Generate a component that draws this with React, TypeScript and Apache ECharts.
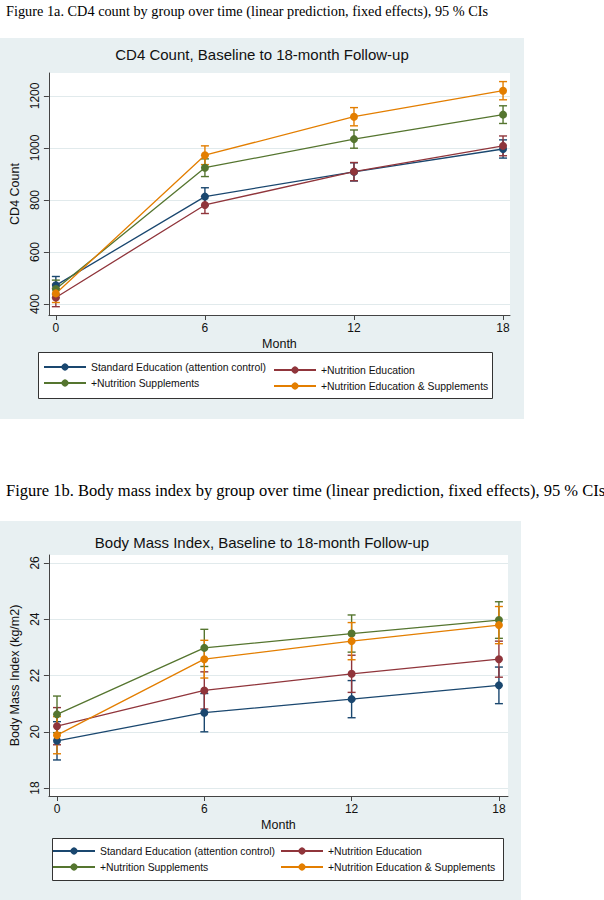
import React, { useEffect, useRef } from "react";
import * as echarts from "echarts";

// ---------- data ----------
const months = [0, 6, 12, 18];
const groupNames = [
  "Standard Education (attention control)",
  "+Nutrition Education",
  "+Nutrition Supplements",
  "+Nutrition Education & Supplements",
];
const groupColors = ["#1a476f", "#90353b", "#55752f", "#e37e00"];

// CD4 count (linear prediction) and 95% CI half-widths
const cd4Standard = [472, 813, 908, 996];
const cd4NutEd = [425, 781, 909, 1008];
const cd4NutSupp = [458, 924, 1034, 1128];
const cd4NutEdSupp = [441, 972, 1120, 1220];
const cd4StandardCi = [34, 34, 35, 35];
const cd4NutEdCi = [35, 33, 35, 38];
const cd4NutSuppCi = [34, 34, 35, 34];
const cd4NutEdSuppCi = [35, 36, 35, 35];
const cd4Ticks = [400, 600, 800, 1000, 1200];

// BMI (linear prediction) and 95% CI half-widths
const bmiStandard = [19.68, 20.68, 21.16, 21.65];
const bmiNutEd = [20.2, 21.47, 22.06, 22.58];
const bmiNutSupp = [20.62, 22.98, 23.49, 23.97];
const bmiNutEdSupp = [19.88, 22.58, 23.22, 23.79];
const bmiStandardCi = [0.68, 0.68, 0.66, 0.65];
const bmiNutEdCi = [0.66, 0.66, 0.66, 0.64];
const bmiNutSuppCi = [0.65, 0.66, 0.66, 0.65];
const bmiNutEdSuppCi = [0.66, 0.67, 0.66, 0.66];
const bmiTicks = [18, 20, 22, 24, 26];

const monthTicks = [0, 6, 12, 18];

const SANS = "'Liberation Sans', Arial, Helvetica, sans-serif";
const SERIF = "'Liberation Serif', 'Times New Roman', serif";

function buildSeries(
  values: number[][],
  cis: number[][],
  axisIndex: number
): any[] {
  const out: any[] = [];
  values.forEach((vals, g) => {
    out.push({
      type: "custom",
      name: "ci-" + axisIndex + "-" + g,
      xAxisIndex: axisIndex,
      yAxisIndex: axisIndex,
      silent: true,
      z: 2,
      data: months.map((m, i) => [m, vals[i] - cis[g][i], vals[i] + cis[g][i]]),
      encode: { x: 0, y: [1, 2] },
      renderItem: (params: any, api: any) => {
        const x = api.value(0);
        const lo = api.coord([x, api.value(1)]);
        const hi = api.coord([x, api.value(2)]);
        const w = 4;
        const style = { stroke: groupColors[g], lineWidth: 1.4 };
        return {
          type: "group",
          children: [
            { type: "line", shape: { x1: lo[0], y1: lo[1], x2: hi[0], y2: hi[1] }, style },
            { type: "line", shape: { x1: lo[0] - w, y1: lo[1], x2: lo[0] + w, y2: lo[1] }, style },
            { type: "line", shape: { x1: hi[0] - w, y1: hi[1], x2: hi[0] + w, y2: hi[1] }, style },
          ],
        };
      },
    });
  });
  values.forEach((vals, g) => {
    out.push({
      type: "line",
      name: groupNames[g],
      xAxisIndex: axisIndex,
      yAxisIndex: axisIndex,
      z: 3,
      data: months.map((m, i) => [m, vals[i]]),
      symbol: "circle",
      symbolSize: 8,
      showSymbol: true,
      lineStyle: { color: groupColors[g], width: 1.3 },
      itemStyle: { color: groupColors[g] },
    });
  });
  return out;
}

function axisPair(
  gridIndex: number,
  xMin: number,
  xMax: number,
  yMin: number,
  yMax: number,
  yTicks: number[],
  yName: string
) {
  const x = {
    type: "value",
    gridIndex,
    min: xMin,
    max: xMax,
    name: "Month",
    nameLocation: "middle",
    nameGap: 22,
    nameTextStyle: { fontFamily: SANS, fontSize: 12.5, color: "#111" },
    axisLine: { show: true, onZero: false, lineStyle: { color: "#444", width: 1 } },
    axisTick: { show: true, length: 5, customValues: monthTicks, lineStyle: { color: "#444" } },
    axisLabel: {
      customValues: monthTicks,
      formatter: (v: number) => String(v),
      fontFamily: SANS,
      fontSize: 12,
      color: "#111",
      margin: 7,
    },
    splitLine: { show: false },
  };
  const y = {
    type: "value",
    gridIndex,
    min: yMin,
    max: yMax,
    name: yName,
    nameLocation: "middle",
    nameRotate: 90,
    nameGap: 26,
    nameTextStyle: { fontFamily: SANS, fontSize: 12.5, color: "#111" },
    axisLine: { show: true, onZero: false, lineStyle: { color: "#444", width: 1 } },
    axisTick: { show: true, length: 5, customValues: yTicks, lineStyle: { color: "#444" } },
    axisLabel: {
      customValues: yTicks,
      formatter: (v: number) => String(v),
      rotate: 90,
      fontFamily: SANS,
      fontSize: 12,
      color: "#111",
      margin: 8,
    },
    splitLine: { show: true, lineStyle: { color: "#e1eaec", width: 1 } },
  };
  return { x, y };
}

function legendBlock(left: number, top: number, names: string[]) {
  return {
    orient: "vertical",
    left,
    top,
    padding: 0,
    itemGap: 6,
    itemWidth: 42,
    itemHeight: 9,
    data: names,
    selectedMode: false,
    textStyle: { fontFamily: SANS, fontSize: 10.4, color: "#111" },
    z: 6,
  };
}

export default function App() {
  const ref = useRef<HTMLDivElement>(null);

  useEffect(() => {
    if (!ref.current) return;
    const chart = echarts.init(ref.current, null, { renderer: "svg" });

    const top = axisPair(0, -0.28, 18.28, 358, 1288, cd4Ticks, "CD4 Count");
    const bot = axisPair(1, -0.33, 18.37, 17.72, 26.28, bmiTicks, "Body Mass Index (kg/m2)");

    const option: any = {
      animation: false,
      backgroundColor: "#ffffff",
      title: [
        {
          text: "Figure 1a. CD4 count by group over time (linear prediction, fixed effects), 95 % CIs",
          left: 6,
          top: 4,
          padding: 0,
          textStyle: { fontFamily: SERIF, fontSize: 14.3, fontWeight: "normal", color: "#000" },
        },
        {
          text: "CD4 Count, Baseline to 18-month Follow-up",
          left: 262,
          top: 47,
          textAlign: "center",
          padding: 0,
          textStyle: { fontFamily: SANS, fontSize: 15, fontWeight: "normal", color: "#111" },
        },
        {
          text: "Figure 1b. Body mass index by group over time (linear prediction, fixed effects), 95 % CIs",
          left: 6,
          top: 482,
          padding: 0,
          textStyle: { fontFamily: SERIF, fontSize: 16.5, fontWeight: "normal", color: "#000" },
        },
        {
          text: "Body Mass Index, Baseline to 18-month Follow-up",
          left: 262,
          top: 535,
          textAlign: "center",
          padding: 0,
          textStyle: { fontFamily: SANS, fontSize: 15, fontWeight: "normal", color: "#111" },
        },
      ],
      graphic: [
        { type: "rect", z: -10, shape: { x: 0, y: 38, width: 524, height: 381 }, style: { fill: "#e8f0f2" } },
        { type: "rect", z: -10, shape: { x: 0, y: 521, width: 521, height: 379 }, style: { fill: "#e8f0f2" } },
        { type: "rect", z: 1, shape: { x: 38.5, y: 352.5, width: 454, height: 46 }, style: { fill: "#ffffff", stroke: "#333", lineWidth: 1 } },
        { type: "rect", z: 1, shape: { x: 52.5, y: 838.5, width: 451, height: 42 }, style: { fill: "#ffffff", stroke: "#333", lineWidth: 1 } },
      ],
      grid: [
        { left: 48, top: 73, width: 462, height: 242, show: true, backgroundColor: "#ffffff", borderWidth: 0 },
        { left: 48, top: 555, width: 460, height: 241, show: true, backgroundColor: "#ffffff", borderWidth: 0 },
      ],
      xAxis: [top.x, bot.x],
      yAxis: [top.y, bot.y],
      legend: [
        legendBlock(43, 362, [groupNames[0], groupNames[2]]),
        legendBlock(273, 365, [groupNames[1], groupNames[3]]),
        legendBlock(52, 846, [groupNames[0], groupNames[2]]),
        legendBlock(280, 846, [groupNames[1], groupNames[3]]),
      ],
      series: [
        ...buildSeries(
          [cd4Standard, cd4NutEd, cd4NutSupp, cd4NutEdSupp],
          [cd4StandardCi, cd4NutEdCi, cd4NutSuppCi, cd4NutEdSuppCi],
          0
        ),
        ...buildSeries(
          [bmiStandard, bmiNutEd, bmiNutSupp, bmiNutEdSupp],
          [bmiStandardCi, bmiNutEdCi, bmiNutSuppCi, bmiNutEdSuppCi],
          1
        ),
      ],
    };

    chart.setOption(option);
    return () => chart.dispose();
  }, []);

  return (
    <div
      ref={ref}
      style={{ position: "absolute", left: 0, top: 0, width: 604, height: 900, background: "#fff" }}
    />
  );
}
